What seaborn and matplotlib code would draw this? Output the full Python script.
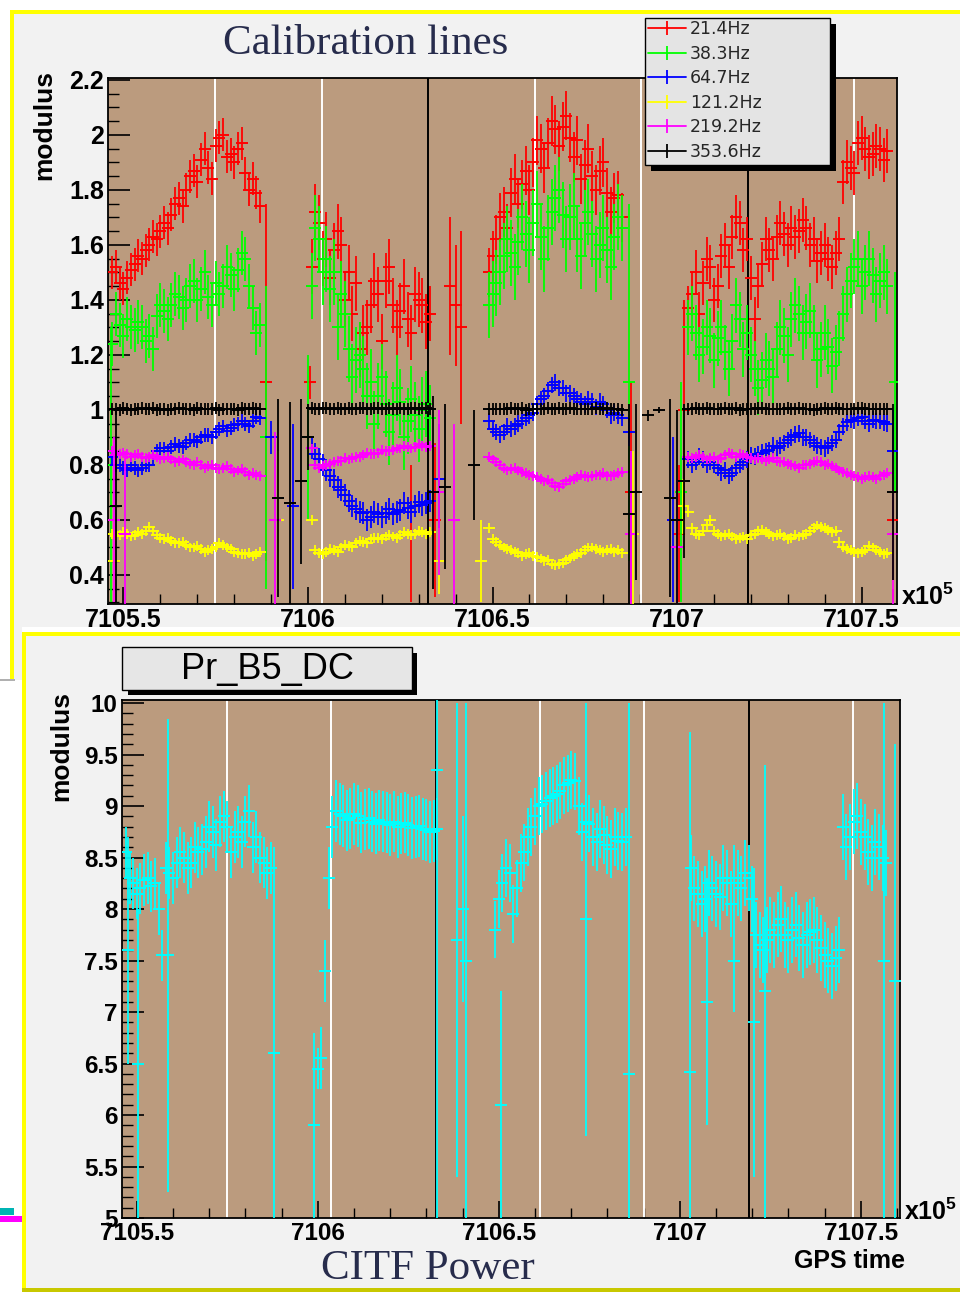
import numpy as np
import pandas as pd
import matplotlib
matplotlib.use("Agg")
import matplotlib.pyplot as plt
import seaborn as sns
from matplotlib.patches import Rectangle
from matplotlib.lines import Line2D
from matplotlib.ticker import MultipleLocator, FuncFormatter

# ---------------- data (GPS time in units of 1e5 s) ----------------
t_a = [7105.47, 7105.49, 7105.51, 7105.53, 7105.55, 7105.57, 7105.59, 7105.61, 7105.63, 7105.65,
       7105.67, 7105.69, 7105.71, 7105.73, 7105.75, 7105.77, 7105.79, 7105.81, 7105.83, 7105.85, 7105.87]
t_b = [7106.01, 7106.03, 7106.05, 7106.07, 7106.09, 7106.11, 7106.13, 7106.15, 7106.17, 7106.19,
       7106.21, 7106.23, 7106.25, 7106.27, 7106.29, 7106.31, 7106.33]
t_c = [7106.49, 7106.51, 7106.53, 7106.55, 7106.57, 7106.59, 7106.61, 7106.63, 7106.65, 7106.67,
       7106.69, 7106.71, 7106.73, 7106.75, 7106.77, 7106.79, 7106.81, 7106.83, 7106.85]
t_d = [7107.03, 7107.05, 7107.07, 7107.09, 7107.11, 7107.13, 7107.15, 7107.17, 7107.19, 7107.21,
       7107.23, 7107.25, 7107.27, 7107.29, 7107.31, 7107.33, 7107.35, 7107.37, 7107.39, 7107.41,
       7107.43, 7107.45, 7107.47, 7107.49, 7107.51, 7107.53, 7107.55, 7107.57]
# intermediate samples
t_a2 = [7105.48, 7105.50, 7105.52, 7105.54, 7105.56, 7105.58, 7105.60, 7105.62, 7105.64, 7105.66,
        7105.68, 7105.70, 7105.72, 7105.74, 7105.76, 7105.78, 7105.80, 7105.82, 7105.84, 7105.86]
t_b2 = [7106.02, 7106.04, 7106.06, 7106.08, 7106.10, 7106.12, 7106.14, 7106.16, 7106.18, 7106.20,
        7106.22, 7106.24, 7106.26, 7106.28, 7106.30, 7106.32]
t_c2 = [7106.50, 7106.52, 7106.54, 7106.56, 7106.58, 7106.60, 7106.62, 7106.64, 7106.66, 7106.68,
        7106.70, 7106.72, 7106.74, 7106.76, 7106.78, 7106.80, 7106.82, 7106.84]
t_d2 = [7107.04, 7107.06, 7107.08, 7107.10, 7107.12, 7107.14, 7107.16, 7107.18, 7107.20, 7107.22,
        7107.24, 7107.26, 7107.28, 7107.30, 7107.32, 7107.34, 7107.36, 7107.38, 7107.40, 7107.42,
        7107.44, 7107.46, 7107.48, 7107.50, 7107.52, 7107.54, 7107.56]

legend_labels = ["21.4Hz", "38.3Hz", "64.7Hz", "121.2Hz", "219.2Hz", "353.6Hz"]
line_colors = ["#ff0000", "#00ff00", "#0000ff", "#ffff00", "#ff00ff", "#000000"]

red_a = [1.50, 1.46, 1.48, 1.53, 1.55, 1.60, 1.62, 1.68, 1.71, 1.77, 1.80, 1.87, 1.91, 1.88, 1.96, 2.00, 1.93, 1.95, 1.86, 1.84, 1.74]
red_b = [1.52, 1.68, 1.62, 1.58, 1.60, 1.50, 1.46, 1.28, 1.38, 1.42, 1.47, 1.38, 1.36, 1.33, 1.42, 1.38, 1.35]
red_c = [1.50, 1.62, 1.72, 1.79, 1.75, 1.87, 1.90, 1.95, 1.97, 2.02, 2.03, 1.99, 1.98, 1.89, 1.85, 1.87, 1.79, 1.77, 1.70]
red_d = [1.37, 1.50, 1.46, 1.52, 1.45, 1.60, 1.63, 1.68, 1.62, 1.33, 1.53, 1.58, 1.63, 1.64, 1.66, 1.65, 1.66, 1.62,
         1.57, 1.55, 1.57, 1.83, 1.88, 1.97, 1.95, 1.93, 1.95, 1.94]
red_a2 = [1.52, 1.44, 1.51, 1.56, 1.58, 1.63, 1.65, 1.66, 1.75, 1.74, 1.85, 1.83, 1.95, 1.84, 1.99, 1.92, 1.90, 1.97, 1.80, 1.79]
red_b2 = [1.72, 1.55, 1.48, 1.65, 1.40, 1.35, 1.22, 1.30, 1.47, 1.25, 1.52, 1.30, 1.45, 1.28, 1.40, 1.32]
red_c2 = [1.56, 1.70, 1.66, 1.84, 1.82, 1.80, 1.98, 1.88, 2.05, 1.96, 2.07, 1.92, 1.84, 1.95, 1.80, 1.90, 1.72, 1.78]
red_d2 = [1.42, 1.35, 1.55, 1.40, 1.56, 1.52, 1.70, 1.58, 1.48, 1.45, 1.62, 1.55, 1.68, 1.60, 1.63, 1.69, 1.60, 1.54,
          1.60, 1.52, 1.62, 1.90, 1.86, 1.99, 1.92, 1.96, 1.91]
red_err = [0.06, 0.10, 0.09, 0.08]
red_gap_t = [7105.885, 7106.005, 7106.28, 7106.345, 7106.385, 7106.40, 7106.415, 7106.875, 7107.005, 7107.02, 7107.585]
red_gap_y = [1.10, 1.10, 0.55, 0.60, 1.45, 1.38, 1.30, 0.70, 0.55, 1.00, 0.60]
red_gap_e = [0.65, 0.06, 0.25, 0.28, 0.25, 0.22, 0.35, 0.40, 0.25, 0.40, 0.30]

green_a = [1.24, 1.31, 1.33, 1.29, 1.30, 1.27, 1.34, 1.36, 1.38, 1.41, 1.40, 1.47, 1.44, 1.41, 1.46, 1.45, 1.49, 1.51, 1.55, 1.37, 1.31]
green_b = [1.45, 1.62, 1.55, 1.50, 1.42, 1.22, 1.18, 1.15, 1.10, 1.05, 1.02, 0.98, 1.03, 0.96, 0.98, 1.00, 0.97]
green_c = [1.38, 1.46, 1.56, 1.57, 1.61, 1.64, 1.68, 1.63, 1.66, 1.77, 1.71, 1.70, 1.62, 1.68, 1.64, 1.60, 1.58, 1.63, 1.66]
green_d = [1.30, 1.28, 1.23, 1.27, 1.26, 1.21, 1.25, 1.33, 1.28, 1.15, 1.11, 1.15, 1.22, 1.27, 1.33, 1.35, 1.32, 1.28,
           1.22, 1.23, 1.21, 1.35, 1.47, 1.55, 1.50, 1.49, 1.47, 1.45]
green_a2 = [1.35, 1.27, 1.30, 1.32, 1.25, 1.22, 1.38, 1.33, 1.42, 1.37, 1.45, 1.40, 1.50, 1.38, 1.42, 1.52, 1.44, 1.57, 1.45, 1.28]
green_b2 = [1.66, 1.50, 1.44, 1.30, 1.35, 1.12, 1.20, 1.05, 0.95, 1.12, 0.92, 1.08, 0.90, 1.04, 0.93, 1.02]
green_c2 = [1.42, 1.50, 1.62, 1.52, 1.70, 1.58, 1.75, 1.55, 1.72, 1.80, 1.62, 1.74, 1.56, 1.72, 1.55, 1.66, 1.52, 1.70]
green_d2 = [1.35, 1.20, 1.30, 1.18, 1.30, 1.15, 1.38, 1.22, 1.20, 1.08, 1.18, 1.12, 1.30, 1.20, 1.38, 1.28, 1.36, 1.18,
            1.28, 1.16, 1.26, 1.42, 1.52, 1.45, 1.55, 1.42, 1.50]
green_err = [0.08, 0.12, 0.12, 0.10]
green_gap_t = [7105.465, 7105.885, 7106.00, 7106.87, 7107.01, 7107.59]
green_gap_y = [0.80, 0.90, 0.90, 1.10, 0.70, 1.10]
green_gap_e = [0.50, 0.55, 0.30, 0.65, 0.40, 0.40]

blue_a = [0.83, 0.80, 0.78, 0.79, 0.79, 0.80, 0.85, 0.86, 0.865, 0.87, 0.88, 0.89, 0.90, 0.91, 0.92, 0.94, 0.935, 0.95, 0.95, 0.96, 0.97]
blue_b = [0.86, 0.82, 0.78, 0.745, 0.71, 0.67, 0.64, 0.625, 0.61, 0.62, 0.625, 0.62, 0.635, 0.645, 0.65, 0.655, 0.67]
blue_c = [0.96, 0.92, 0.92, 0.93, 0.95, 0.97, 0.99, 1.04, 1.07, 1.10, 1.08, 1.06, 1.04, 1.02, 1.03, 1.03, 1.00, 0.99, 0.97]
blue_d = [0.82, 0.81, 0.82, 0.81, 0.79, 0.78, 0.77, 0.80, 0.82, 0.83, 0.845, 0.855, 0.86, 0.88, 0.90, 0.915, 0.90, 0.88,
          0.865, 0.87, 0.89, 0.94, 0.965, 0.97, 0.96, 0.965, 0.96, 0.95]
blue_a2 = [0.80, 0.79, 0.80, 0.78, 0.80, 0.83, 0.86, 0.85, 0.875, 0.865, 0.89, 0.885, 0.91, 0.90, 0.93, 0.925, 0.945, 0.96, 0.94, 0.975]
blue_b2 = [0.84, 0.80, 0.76, 0.72, 0.69, 0.65, 0.63, 0.60, 0.63, 0.61, 0.64, 0.63, 0.66, 0.63, 0.665, 0.66]
blue_c2 = [0.93, 0.91, 0.94, 0.94, 0.96, 0.98, 1.02, 1.05, 1.09, 1.08, 1.06, 1.05, 1.03, 1.04, 1.01, 1.02, 0.98, 0.98]
blue_d2 = [0.80, 0.83, 0.80, 0.80, 0.77, 0.76, 0.79, 0.81, 0.835, 0.84, 0.85, 0.87, 0.87, 0.89, 0.91, 0.90, 0.89, 0.87,
           0.86, 0.88, 0.92, 0.955, 0.96, 0.975, 0.95, 0.96, 0.955]
blue_err = [0.025, 0.04, 0.03, 0.03]
blue_gap_t = [7105.90, 7105.96, 7106.355, 7106.87, 7106.99, 7107.585]
blue_gap_y = [0.90, 0.65, 0.75, 0.92, 0.60, 0.85]
blue_gap_e = [0.06, 0.30, 0.20, 0.05, 0.30, 0.15]

yellow_a = [0.55, 0.545, 0.55, 0.545, 0.55, 0.575, 0.545, 0.53, 0.525, 0.515, 0.51, 0.50, 0.495, 0.49, 0.50, 0.51, 0.495, 0.48, 0.475, 0.47, 0.485]
yellow_b = [0.60, 0.48, 0.485, 0.49, 0.50, 0.505, 0.515, 0.52, 0.53, 0.535, 0.54, 0.54, 0.545, 0.55, 0.55, 0.555, 0.555]
yellow_c = [0.57, 0.52, 0.50, 0.49, 0.48, 0.475, 0.47, 0.46, 0.455, 0.435, 0.445, 0.46, 0.475, 0.49, 0.50, 0.49, 0.49, 0.485, 0.48]
yellow_d = [0.63, 0.55, 0.56, 0.60, 0.55, 0.545, 0.54, 0.535, 0.53, 0.55, 0.565, 0.55, 0.545, 0.54, 0.535, 0.54, 0.55, 0.57,
            0.575, 0.565, 0.56, 0.50, 0.49, 0.48, 0.49, 0.50, 0.485, 0.48]
yellow_a2 = [0.54, 0.555, 0.54, 0.555, 0.56, 0.56, 0.535, 0.535, 0.515, 0.52, 0.50, 0.505, 0.485, 0.495, 0.515, 0.50, 0.485, 0.475, 0.48, 0.475]
yellow_b2 = [0.49, 0.475, 0.495, 0.485, 0.51, 0.50, 0.525, 0.515, 0.535, 0.53, 0.545, 0.535, 0.555, 0.545, 0.56, 0.55]
yellow_c2 = [0.53, 0.51, 0.495, 0.485, 0.47, 0.48, 0.465, 0.45, 0.44, 0.44, 0.455, 0.47, 0.48, 0.50, 0.495, 0.485, 0.495, 0.49]
yellow_d2 = [0.57, 0.545, 0.58, 0.56, 0.54, 0.55, 0.53, 0.54, 0.545, 0.56, 0.555, 0.54, 0.55, 0.53, 0.545, 0.545, 0.56, 0.58,
             0.57, 0.555, 0.52, 0.495, 0.485, 0.485, 0.505, 0.49, 0.475]
yellow_err = [0.018, 0.018, 0.018, 0.018]
yellow_gap_t = [7105.475, 7105.92, 7106.355, 7106.47, 7106.88, 7107.015, 7107.585]
yellow_gap_y = [0.45, 0.60, 0.45, 0.45, 0.55, 0.65, 0.55]
yellow_gap_e = [0.15, 0.25, 0.12, 0.15, 0.30, 0.10, 0.20]

magenta_a = [0.85, 0.84, 0.84, 0.835, 0.83, 0.83, 0.83, 0.825, 0.82, 0.815, 0.81, 0.80, 0.80, 0.795, 0.79, 0.79, 0.785, 0.78, 0.775, 0.77, 0.76]
magenta_b = [0.86, 0.79, 0.80, 0.81, 0.815, 0.82, 0.83, 0.835, 0.84, 0.845, 0.85, 0.855, 0.86, 0.865, 0.865, 0.87, 0.87]
magenta_c = [0.83, 0.81, 0.79, 0.785, 0.78, 0.77, 0.76, 0.75, 0.745, 0.725, 0.73, 0.745, 0.755, 0.76, 0.76, 0.765, 0.76, 0.765, 0.775]
magenta_d = [0.83, 0.83, 0.83, 0.825, 0.82, 0.835, 0.84, 0.84, 0.83, 0.82, 0.82, 0.82, 0.815, 0.81, 0.80, 0.79, 0.80, 0.81,
             0.81, 0.805, 0.79, 0.775, 0.765, 0.755, 0.755, 0.755, 0.76, 0.77]
magenta_a2 = [0.835, 0.845, 0.83, 0.84, 0.825, 0.835, 0.82, 0.83, 0.81, 0.82, 0.805, 0.81, 0.79, 0.80, 0.785, 0.795, 0.775, 0.785, 0.765, 0.765]
magenta_b2 = [0.80, 0.795, 0.805, 0.815, 0.825, 0.825, 0.83, 0.845, 0.84, 0.855, 0.85, 0.86, 0.87, 0.86, 0.875, 0.865]
magenta_c2 = [0.82, 0.80, 0.78, 0.79, 0.775, 0.765, 0.755, 0.74, 0.735, 0.72, 0.74, 0.75, 0.765, 0.755, 0.765, 0.77, 0.76, 0.77]
magenta_d2 = [0.825, 0.835, 0.82, 0.83, 0.825, 0.845, 0.83, 0.835, 0.825, 0.825, 0.815, 0.825, 0.81, 0.805, 0.795, 0.80,
              0.805, 0.815, 0.80, 0.795, 0.78, 0.77, 0.76, 0.75, 0.76, 0.75, 0.765]
magenta_err = [0.018, 0.018, 0.018, 0.018]
magenta_gap_t = [7105.475, 7105.505, 7105.91, 7106.355, 7106.395, 7106.875, 7107.00, 7107.585]
magenta_gap_y = [0.60, 0.55, 0.60, 0.70, 0.60, 0.55, 0.50, 0.55]
magenta_gap_e = [0.30, 0.30, 0.32, 0.30, 0.35, 0.30, 0.25, 0.30]

black_a = [1.005, 1.000, 1.005, 1.002, 1.006, 1.003, 1.000, 1.005, 1.002, 1.006, 1.003, 1.000, 1.005, 1.003, 1.006,
           1.002, 1.005, 1.000, 1.004, 1.006, 1.002]
black_b = [1.008, 1.004, 1.006, 1.002, 1.005, 1.007, 1.003, 1.006, 1.004, 1.008, 1.005, 1.003, 1.007, 1.004, 1.006, 1.008, 1.005]
black_c = [1.003, 1.005, 1.002, 1.006, 1.004, 1.001, 1.005, 1.003, 1.006, 1.002, 1.004, 1.006, 1.003, 1.005, 1.002,
           1.004, 1.006, 1.003, 1.001]
black_d = [1.004, 1.006, 1.003, 1.005, 1.002, 1.006, 1.004, 1.001, 1.005, 1.003, 1.006, 1.004, 1.002, 1.005, 1.003,
           1.006, 1.004, 1.001, 1.005, 1.003, 1.006, 1.002, 1.004, 1.006, 1.003, 1.005, 1.002, 1.004]
black_a2 = [1.003, 1.006, 1.001, 1.004, 1.002, 1.006, 1.003, 1.001, 1.005, 1.002, 1.004, 1.007, 1.002, 1.004, 1.001,
            1.005, 1.003, 1.006, 1.002, 1.004]
black_b2 = [1.005, 1.007, 1.003, 1.006, 1.004, 1.005, 1.008, 1.004, 1.006, 1.003, 1.007, 1.005, 1.004, 1.007, 1.005, 1.006]
black_c2 = [1.004, 1.002, 1.005, 1.003, 1.006, 1.002, 1.004, 1.005, 1.003, 1.006, 1.002, 1.005, 1.003, 1.004, 1.006,
            1.002, 1.005, 1.003]
black_d2 = [1.005, 1.002, 1.006, 1.003, 1.005, 1.002, 1.006, 1.003, 1.004, 1.006, 1.002, 1.005, 1.003, 1.006, 1.004,
            1.002, 1.005, 1.003, 1.006, 1.004, 1.002, 1.005, 1.003, 1.006, 1.004, 1.002, 1.005]
black_err = [0.022, 0.022, 0.022, 0.022]
black_gap_t = [7105.48, 7105.92, 7105.95, 7105.98, 7106.00, 7106.34, 7106.37, 7106.45, 7106.87, 7106.89, 7106.92,
               7106.95, 7106.98, 7107.00, 7107.02, 7107.585]
black_gap_y = [0.65, 0.68, 0.66, 0.74, 0.90, 0.70, 0.72, 0.80, 0.62, 0.70, 0.98, 1.00, 0.68, 0.60, 0.74, 0.70]
black_gap_e = [0.35, 0.36, 0.37, 0.30, 0.12, 0.35, 0.30, 0.20, 0.40, 0.32, 0.02, 0.01, 0.36, 0.40, 0.28, 0.32]

# Pr_B5_DC (bottom panel)
cyan_a = [8.55, 8.25, 8.20, 8.30, 8.25, 7.55, 8.35, 8.45, 8.50, 8.45, 8.55, 8.65, 8.75, 8.85, 8.80, 8.70, 8.65, 8.95, 8.70, 8.45, 8.40]
cyan_b = [6.55, 8.30, 8.95, 8.90, 8.88, 8.90, 8.87, 8.85, 8.86, 8.84, 8.85, 8.83, 8.82, 8.80, 8.78, 8.75, 8.78]
cyan_c = [7.80, 8.25, 8.35, 8.20, 8.55, 8.80, 9.00, 9.05, 9.10, 9.15, 9.22, 9.24, 8.75, 8.83, 8.65, 8.72, 8.58, 8.66, 8.70]
cyan_d = [8.40, 8.15, 8.10, 8.20, 8.12, 8.25, 8.30, 8.20, 8.30, 7.75, 7.60, 7.80, 7.85, 7.75, 7.80, 7.72, 7.75, 7.80,
          7.62, 7.50, 7.52, 8.80, 8.70, 8.90, 8.70, 8.50, 8.60, 8.45]
cyan_a2 = [8.30, 8.15, 8.28, 8.22, 8.00, 8.40, 8.30, 8.55, 8.40, 8.60, 8.58, 8.80, 8.62, 8.90, 8.55, 8.75, 8.85, 8.60, 8.50, 8.35]
cyan_b2 = [7.40, 8.80, 8.92, 8.86, 8.92, 8.84, 8.88, 8.83, 8.85, 8.82, 8.80, 8.84, 8.79, 8.81, 8.77, 8.76]
cyan_c2 = [8.10, 8.40, 7.95, 8.45, 8.70, 8.90, 9.02, 9.08, 9.12, 9.20, 9.25, 9.00, 8.85, 8.70, 8.78, 8.62, 8.70, 8.65]
cyan_d2 = [8.20, 8.05, 8.25, 8.15, 8.30, 8.05, 8.25, 8.35, 8.10, 7.65, 7.70, 7.75, 7.90, 7.70, 7.85, 7.65, 7.78, 7.70,
           7.55, 7.45, 7.60, 8.60, 8.85, 8.75, 8.55, 8.65, 8.50]
cyan_err = [0.25, 0.30, 0.28, 0.32]
cyan_gap_t = [7105.475, 7105.503, 7105.585, 7105.88, 7105.99, 7106.00, 7106.33, 7106.385, 7106.40, 7106.41, 7106.505,
              7106.74, 7106.86, 7107.028, 7107.075, 7107.15, 7107.205, 7107.235, 7107.565, 7107.595]
cyan_gap_y = [7.60, 6.50, 7.55, 6.60, 5.90, 6.45, 9.35, 7.70, 8.00, 7.50, 6.10, 7.90, 6.40, 6.42, 7.10, 7.50, 6.90, 7.20, 7.50, 7.30]
cyan_gap_e = [1.10, 1.50, 2.30, 2.00, 0.90, 0.20, 4.60, 2.30, 0.90, 2.50, 1.10, 2.10, 3.60, 3.30, 1.20, 0.50, 1.50, 2.20, 2.50, 2.30]

shift_times = [7105.748, 7106.037, 7106.325, 7106.614, 7106.902, 7107.191, 7107.479]
shift_colors = ["white", "white", "black", "white", "white", "black", "white"]

# ---------------- style ----------------
sns.set_theme(style="ticks")
plt.rcParams["font.family"] = ["Liberation Sans", "DejaVu Sans"]
plt.rcParams["font.weight"] = "bold"
plt.rcParams["mathtext.fontset"] = "custom"
plt.rcParams["mathtext.rm"] = "Liberation Sans:bold"
plt.rcParams["mathtext.bf"] = "Liberation Sans:bold"

W, H = 960, 1292
fig = plt.figure(figsize=(W / 100, H / 100), dpi=100)
fig.patch.set_facecolor("white")


def fx(px):
    return px / W


def fy(py):
    return 1 - py / H


def frect(x0, y0, x1, y1, fc, ec="none", lw=0, z=-5):
    r = Rectangle((fx(x0), fy(y1)), fx(x1) - fx(x0), fy(y0) - fy(y1), transform=fig.transFigure,
                  facecolor=fc, edgecolor=ec, linewidth=lw, zorder=z)
    fig.add_artist(r)


# panel frames
frect(12, 12, 962, 627, "#f2f2f2")
frect(12, 627, 22, 680, "#f2f2f2")
frect(10, 10, 962, 14, "#ffff00", z=-4)
frect(10, 10, 14, 680, "#ffff00", z=-4)
frect(0, 679, 15, 681, "#b0b0b0", z=-4)
frect(22, 634, 962, 1292, "#f2f2f2", z=-3)
frect(22, 632, 962, 636, "#ffff00", z=-2)
frect(22, 632, 26, 1292, "#ffff00", z=-2)
frect(22, 1288, 962, 1292, "#c8c800", z=-2)
frect(0, 1208, 14, 1215, "#00b4b4", z=-2)
frect(0, 1216, 22, 1222, "#ff00ff", z=-2)

fmt_g = FuncFormatter(lambda v, p: "%g" % round(v, 3))


def style_axes(ax, xl, yl, ymaj, ymin, lsize):
    ax.set_facecolor("#bb9b7e")
    ax.set_xlim(*xl)
    ax.set_ylim(*yl)
    for s in ax.spines.values():
        s.set_color("black")
        s.set_linewidth(1.3)
    ax.xaxis.set_major_locator(MultipleLocator(0.5))
    ax.xaxis.set_minor_locator(MultipleLocator(0.1))
    ax.yaxis.set_major_locator(MultipleLocator(ymaj))
    ax.yaxis.set_minor_locator(MultipleLocator(ymin))
    ax.xaxis.set_major_formatter(fmt_g)
    ax.yaxis.set_major_formatter(fmt_g)
    ax.tick_params(axis="both", which="both", direction="in", top=False, right=False, colors="black")
    ax.tick_params(axis="x", which="major", length=12, width=1.2, pad=3, labelsize=lsize)
    ax.tick_params(axis="x", which="minor", length=7, width=1.0)
    ax.tick_params(axis="y", which="major", length=16, width=1.2, pad=3, labelsize=lsize)
    ax.tick_params(axis="y", which="minor", length=8, width=1.0)
    ax.grid(False)
    for t, c in zip(shift_times, shift_colors):
        ax.axvline(t, color=c, lw=1.4, zorder=1)


def draw_series(ax, parts, gt, gy, ge, color, z):
    tt, yy, ee = [], [], []
    for ts, ys, e in parts:
        tt += ts
        yy += ys
        ee += [e] * len(ts)
    tt += gt
    yy += gy
    ee += ge
    ax.errorbar(tt, yy, yerr=ee, fmt="none", ecolor=color, elinewidth=1.3, capsize=0, zorder=z)
    sns.scatterplot(x=tt, y=yy, color=color, marker="_", s=80, linewidth=1.4, ax=ax, zorder=z, legend=False)


def parts8(ys, ys2, errs):
    return [(t_a, ys[0], errs[0]), (t_b, ys[1], errs[1]), (t_c, ys[2], errs[2]), (t_d, ys[3], errs[3]),
            (t_a2, ys2[0], errs[0]), (t_b2, ys2[1], errs[1]), (t_c2, ys2[2], errs[2]), (t_d2, ys2[3], errs[3])]


# ---------------- top panel ----------------
ax1 = fig.add_axes([fx(108), fy(604), fx(897) - fx(108), fy(78) - fy(604)])
style_axes(ax1, (7105.458, 7107.596), (0.2945, 2.207), 0.2, 0.05, 18)

top_parts = [
    parts8([red_a, red_b, red_c, red_d], [red_a2, red_b2, red_c2, red_d2], red_err),
    parts8([green_a, green_b, green_c, green_d], [green_a2, green_b2, green_c2, green_d2], green_err),
    parts8([blue_a, blue_b, blue_c, blue_d], [blue_a2, blue_b2, blue_c2, blue_d2], blue_err),
    parts8([yellow_a, yellow_b, yellow_c, yellow_d], [yellow_a2, yellow_b2, yellow_c2, yellow_d2], yellow_err),
    parts8([magenta_a, magenta_b, magenta_c, magenta_d], [magenta_a2, magenta_b2, magenta_c2, magenta_d2], magenta_err),
    parts8([black_a, black_b, black_c, black_d], [black_a2, black_b2, black_c2, black_d2], black_err),
]
top_gaps = [
    (red_gap_t, red_gap_y, red_gap_e),
    (green_gap_t, green_gap_y, green_gap_e),
    (blue_gap_t, blue_gap_y, blue_gap_e),
    (yellow_gap_t, yellow_gap_y, yellow_gap_e),
    (magenta_gap_t, magenta_gap_y, magenta_gap_e),
    (black_gap_t, black_gap_y, black_gap_e),
]
for i, (parts, (gt, gy, ge)) in enumerate(zip(top_parts, top_gaps)):
    draw_series(ax1, parts, gt, gy, ge, line_colors[i], 3 + i * 0.1)

ax1.set_ylabel("modulus", fontsize=19, fontweight="bold", color="black")
ax1.yaxis.set_label_coords(-0.066, 0.91)

# ---------------- bottom panel ----------------
ax2 = fig.add_axes([fx(122), fy(1218), fx(900) - fx(122), fy(700) - fy(1218)])
style_axes(ax2, (7105.459, 7107.608), (5.0, 10.03), 0.5, 0.1, 17.5)
draw_series(ax2, parts8([cyan_a, cyan_b, cyan_c, cyan_d], [cyan_a2, cyan_b2, cyan_c2, cyan_d2], cyan_err),
            cyan_gap_t, cyan_gap_y, cyan_gap_e, "#00ffff", 3)
ax2.set_ylabel("modulus", fontsize=19, fontweight="bold", color="black")
ax2.yaxis.set_label_coords(-0.063, 0.912)

# ---------------- texts ----------------
fig.text(fx(366), fy(44), "Calibration lines", ha="center", va="center", fontsize=31,
         family="Liberation Serif", fontweight="normal", color="#272c4c")
fig.text(fx(428), fy(1269), "CITF Power", ha="center", va="center", fontsize=31,
         family="Liberation Serif", fontweight="normal", color="#272c4c")
fig.text(fx(901), fy(605), r"x10$^{5}$", ha="left", va="baseline", fontsize=18, fontweight="bold", color="black")
fig.text(fx(904), fy(1220), r"x10$^{5}$", ha="left", va="baseline", fontsize=18, fontweight="bold", color="black")
fig.text(fx(905), fy(1268), "GPS time", ha="right", va="baseline", fontsize=18, fontweight="bold", color="black")

# Pr_B5_DC title box
frect(128, 653, 417, 695, "black", z=2)
frect(122, 647, 412, 690, "#e6e6e6", ec="black", lw=1.0, z=3)
fig.text(fx(268), fy(669), "Pr_B5_DC", ha="center", va="center", fontsize=26,
         family="Liberation Sans", fontweight="normal", color="black", zorder=4)

# legend box
frect(651, 24, 836, 171, "black", z=4)
frect(645, 18, 830, 165, "#e4e4e4", ec="black", lw=1.0, z=5)
handles = [Line2D([], [], color=c, lw=1.3, marker="|", markersize=10, markeredgewidth=1.3) for c in line_colors]
leg = fig.legend(handles, legend_labels, loc="upper left", bbox_to_anchor=(fx(648), fy(20)), frameon=False,
                 handlelength=2.2, handletextpad=0.2, labelspacing=0.38, borderpad=0, borderaxespad=0,
                 prop={"family": "DejaVu Sans", "weight": "normal", "size": 12.5})
leg.set_zorder(10)

fig.savefig("out.png", dpi=100, facecolor="white")
